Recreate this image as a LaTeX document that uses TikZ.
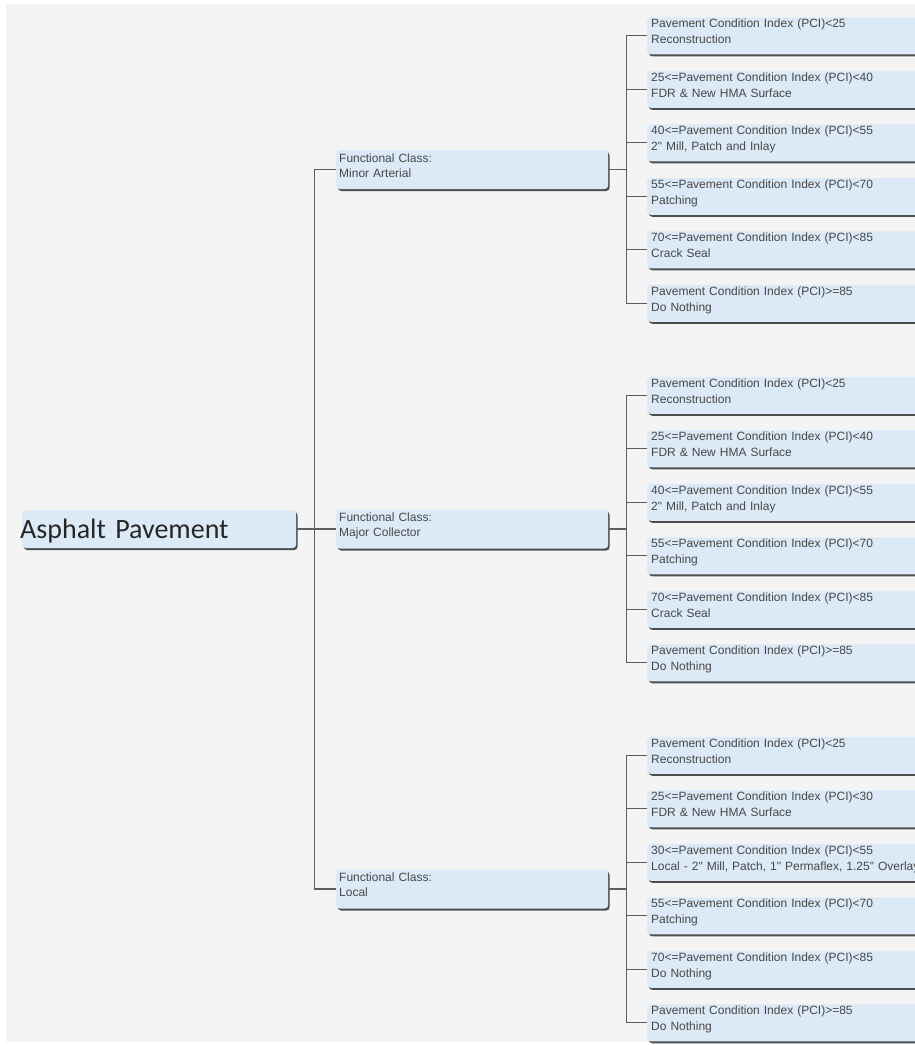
\documentclass[tikz,border=0pt]{standalone}
\usepackage{fontspec}
\setmainfont{Liberation Sans}
\newfontfamily\rootfont{Carlito}
\usetikzlibrary{shadows}

\definecolor{bgGray}{HTML}{F4F4F4}
\definecolor{boxBlue}{HTML}{DCEAF7}
\definecolor{shadowGray}{HTML}{4D4D4D}
\definecolor{lineGray}{HTML}{5E5E5E}
\definecolor{textGray}{HTML}{474747}

\tikzset{
  treebox/.style={rectangle,rounded corners=3.5pt,fill=boxBlue,anchor=west,
    align=left,text=textGray,
    drop shadow={shadow xshift=1.5pt,shadow yshift=-2pt,fill=shadowGray,opacity=1}},
  leafbox/.style={treebox,text width=300pt,inner xsep=4pt,inner ysep=2pt,
    text height=8.3pt,text depth=24.7pt,font=\fontsize{12}{16}\selectfont},
  classbox/.style={treebox,text width=266pt,inner xsep=3pt,inner ysep=2pt,
    text height=10pt,text depth=25pt,font=\fontsize{12}{15}\selectfont},
  rootbox/.style={treebox,text width=270pt,inner xsep=2pt,minimum height=38pt,
    text height=19.6pt,text depth=0pt,text=black!85,font=\rootfont\fontsize{28}{30}\selectfont}
}

\begin{document}
\begin{tikzpicture}[x=1pt,y=-1pt]
    \clip (0,0) rectangle (915,1045);
    \fill[white] (0,0) rectangle (915,1045);
    \fill[bgGray] (6,4) rectangle (915,1042);

    % root and functional classes
    \node[rootbox] (root) at (22,529) {\hspace*{-4pt}Asphalt Pavement};
    \begin{scope}[every node/.style={classbox}]
      \node (minor) at (336,169.5) {Functional Class:\\Minor Arterial};
      \node (major) at (336,529) {Functional Class:\\Major Collector};
      \node (local) at (336,889) {Functional Class:\\Local};
    \end{scope}

    % Minor Arterial
    \begin{scope}[every node/.style={leafbox}]
      \node (minor1) at (647,35.75) {Pavement Condition Index (PCI)<25\\Reconstruction};
      \node (minor2) at (647,89.25) {25<=Pavement Condition Index (PCI)<40\\FDR \& New HMA Surface};
      \node (minor3) at (647,142.75) {40<=Pavement Condition Index (PCI)<55\\2\textquotedbl{} Mill, Patch and Inlay};
      \node (minor4) at (647,196.25) {55<=Pavement Condition Index (PCI)<70\\Patching};
      \node (minor5) at (647,249.75) {70<=Pavement Condition Index (PCI)<85\\Crack Seal};
      \node (minor6) at (647,303.25) {Pavement Condition Index (PCI)>=85\\Do Nothing};
    \end{scope}

    % Major Collector
    \begin{scope}[every node/.style={leafbox}]
      \node (major1) at (647,395.25) {Pavement Condition Index (PCI)<25\\Reconstruction};
      \node (major2) at (647,448.75) {25<=Pavement Condition Index (PCI)<40\\FDR \& New HMA Surface};
      \node (major3) at (647,502.25) {40<=Pavement Condition Index (PCI)<55\\2\textquotedbl{} Mill, Patch and Inlay};
      \node (major4) at (647,555.75) {55<=Pavement Condition Index (PCI)<70\\Patching};
      \node (major5) at (647,609.25) {70<=Pavement Condition Index (PCI)<85\\Crack Seal};
      \node (major6) at (647,662.75) {Pavement Condition Index (PCI)>=85\\Do Nothing};
    \end{scope}

    % Local
    \begin{scope}[every node/.style={leafbox}]
      \node (local1) at (647,755.25) {Pavement Condition Index (PCI)<25\\Reconstruction};
      \node (local2) at (647,808.75) {25<=Pavement Condition Index (PCI)<30\\FDR \& New HMA Surface};
      \node (local3) at (647,862.25) {30<=Pavement Condition Index (PCI)<55\\Local - 2\textquotedbl{} Mill, Patch, 1\textquotedbl{} Permaflex, 1.25\textquotedbl{} Overlay};
      \node (local4) at (647,915.75) {55<=Pavement Condition Index (PCI)<70\\Patching};
      \node (local5) at (647,969.25) {70<=Pavement Condition Index (PCI)<85\\Do Nothing};
      \node (local6) at (647,1022.75) {Pavement Condition Index (PCI)>=85\\Do Nothing};
    \end{scope}

    \begin{scope}[every edge/.style={draw=lineGray,line width=1.1pt,
        to path={(\tikztostart.east) -- ++(18.5,0) |- (\tikztotarget.west)}}]
      \path (root) edge (minor) edge (major) edge (local);
      \path (minor) edge (minor1) edge (minor2) edge (minor3)
                    edge (minor4) edge (minor5) edge (minor6);
      \path (major) edge (major1) edge (major2) edge (major3)
                    edge (major4) edge (major5) edge (major6);
      \path (local) edge (local1) edge (local2) edge (local3)
                    edge (local4) edge (local5) edge (local6);
    \end{scope}
  \end{tikzpicture}
\end{document}
